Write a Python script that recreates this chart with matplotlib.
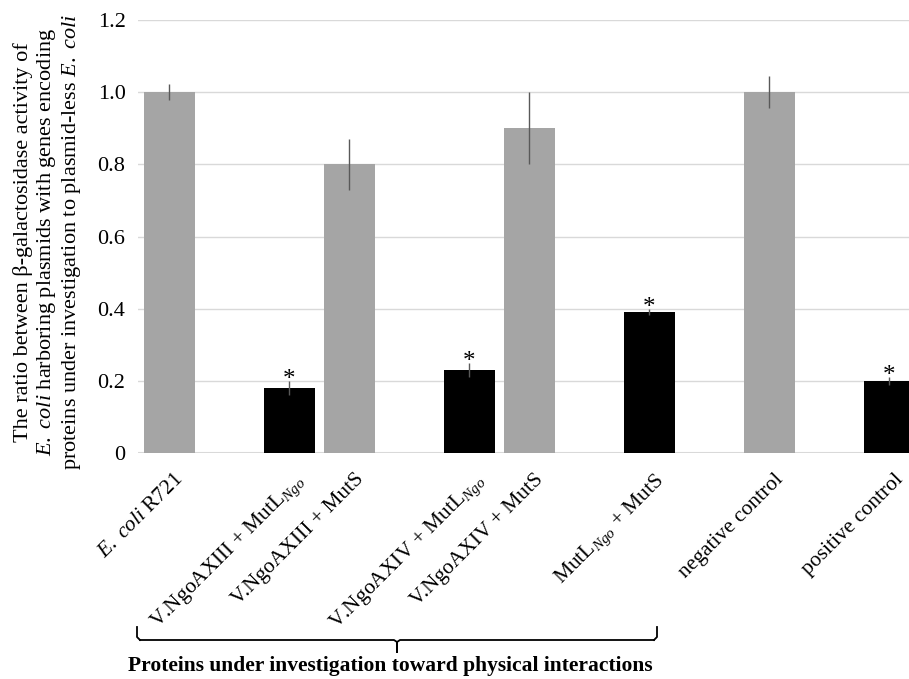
import matplotlib
matplotlib.use("Agg")
import matplotlib.pyplot as plt
import matplotlib.transforms as mtransforms
from matplotlib.lines import Line2D

plt.rcParams['font.family'] = ['Liberation Serif', 'DejaVu Serif']
plt.rcParams['mathtext.fontset'] = 'custom'
plt.rcParams['mathtext.rm'] = 'Liberation Serif'
plt.rcParams['mathtext.it'] = 'Liberation Serif:italic'
plt.rcParams['mathtext.bf'] = 'Liberation Serif:bold'

# ---- data ----
categories = [
    r"$\mathit{E.\ coli}$ R721",
    r"V.NgoAXIII + MutL$_{\mathit{Ngo}}$",
    "V.NgoAXIII + MutS",
    r"V.NgoAXIV + MutL$_{\mathit{Ngo}}$",
    "V.NgoAXIV + MutS",
    r"MutL$_{\mathit{Ngo}}$ + MutS",
    "negative control",
    "positive control",
]
positions = [0, 2, 3, 5, 6, 8, 10, 12]
values = [1.00, 0.18, 0.80, 0.23, 0.90, 0.39, 1.00, 0.20]
errors = [0.023, 0.02, 0.07, 0.02, 0.10, 0.008, 0.044, 0.012]
significant = [False, True, False, True, False, True, False, True]
bar_colors = ['#a5a5a5', '#000000', '#a5a5a5', '#000000', '#a5a5a5', '#000000', '#a5a5a5', '#000000']
yticks = [0, 0.2, 0.4, 0.6, 0.8, 1.0, 1.2]
ytick_labels = ["0", "0.2", "0.4", "0.6", "0.8", "1.0", "1.2"]

W, H = 909, 679
fig = plt.figure(figsize=(W / 100, H / 100), dpi=100)
ax = fig.add_axes([138 / W, 1 - 453.3 / H, (W - 138) / W, (453.3 - 19.7) / H])

ax.bar(positions, values, width=0.85, color=bar_colors, zorder=3)
ax.errorbar(positions, values, yerr=errors, fmt='none', ecolor='#595959',
            elinewidth=1.0, capsize=0, zorder=4)
for x, v, e, s in zip(positions, values, errors, significant):
    if s:
        ax.annotate("*", xy=(x, v + e), xytext=(0, -3.5), textcoords='offset points',
                    ha='center', va='baseline', fontsize=18, zorder=5)

ax.set_xlim(-0.517, 12.333)
ax.set_ylim(0, 1.2)
ax.set_yticks(yticks)
ax.set_yticklabels(ytick_labels, fontsize=16)
ax.yaxis.grid(True, color='#d9d9d9', linewidth=1.0, zorder=0)
ax.set_axisbelow(True)
ax.axhline(0, color='#d9d9d9', linewidth=1.5, zorder=2)
for sp in ax.spines.values():
    sp.set_visible(False)
ax.tick_params(axis='y', length=0, pad=9)
ax.tick_params(axis='x', length=0, pad=12)

ax.set_xticks(positions)
ax.set_xticklabels(categories, rotation=45, ha='right', va='top',
                   rotation_mode='anchor', fontsize=15.5)
offset = mtransforms.ScaledTranslation(5 / 100, 0, fig.dpi_scale_trans)
for lab in ax.get_xticklabels():
    lab.set_transform(lab.get_transform() + offset)

fig.text(48 / W, 1 - 242 / H,
         "The ratio between β-galactosidase activity of\n"
         r"$\mathit{E.\ coli}$ harboring plasmids with genes encoding" "\n"
         r"proteins under investigation to plasmid-less $\mathit{E.\ coli}$",
         rotation=90, ha='center', va='center', fontsize=16, linespacing=1.12)

# brace under the investigated protein groups
def fx(px):
    return px / W

def fy(py):
    return 1 - py / H

bx0, bx1, bmid, by, btop, bbot = 137, 657, 397, 640, 627, 652
fig.add_artist(Line2D([fx(bx0), fx(bx0), fx(bx0 + 3)], [fy(btop), fy(by - 3), fy(by)],
                      color='black', lw=1.3))
fig.add_artist(Line2D([fx(bx1), fx(bx1), fx(bx1 - 3)], [fy(btop), fy(by - 3), fy(by)],
                      color='black', lw=1.3))
fig.add_artist(Line2D([fx(bx0 + 3), fx(bmid - 3), fx(bmid), fx(bmid), fx(bmid), fx(bmid + 3), fx(bx1 - 3)],
                      [fy(by), fy(by), fy(by + 2), fy(bbot), fy(by + 2), fy(by), fy(by)],
                      color='black', lw=1.3))
fig.text(fx(390), fy(666), "Proteins under investigation toward physical interactions",
         ha='center', va='center', fontsize=15.5, fontweight='bold')

fig.savefig("out.png", dpi=100)
